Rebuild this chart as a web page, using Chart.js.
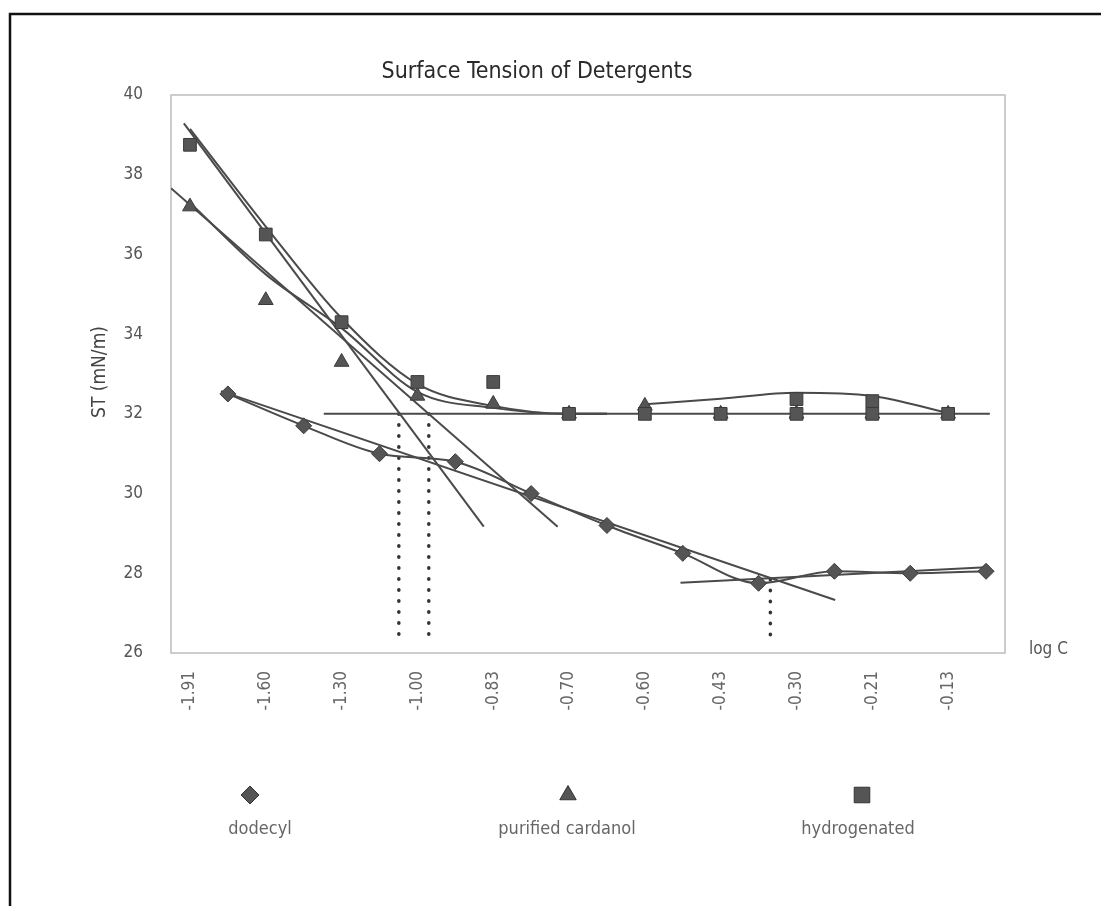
<!DOCTYPE html>
<html>
<head>
<meta charset="utf-8">
<script src="https://cdn.jsdelivr.net/npm/chart.js@4/dist/chart.umd.min.js"></script>
<style>
  html, body { margin: 0; padding: 0; background: #fff; }
  #wrap { width: 1101px; height: 906px; }
</style>
</head>
<body>
<div id="wrap"><canvas id="chart" width="1101" height="906"></canvas></div>
<script>
// x axis: 22 slots, tick label i sits on slot 2*i, dodecyl readings on the odd slots
const xLabels = ['-1.91', '-1.60', '-1.30', '-1.00', '-0.83', '-0.70', '-0.60', '-0.43', '-0.30', '-0.21', '-0.13'];
const yTicks = [26, 28, 30, 32, 34, 36, 38, 40];

const dodecylSlots = [1, 3, 5, 7, 9, 11, 13, 15, 17, 19, 21];
const dodecyl = [32.5, 31.7, 31.0, 30.8, 30.0, 29.2, 28.5, 27.75, 28.05, 28.0, 28.05];

const evenSlots = [0, 2, 4, 6, 8, 10, 12, 14, 16, 18, 20];
const cardanol = [37.2, 34.85, 33.3, 32.45, 32.25, 32.0, 32.2, 32.0, 32.0, 32.0, 32.0];
const hydrogenated = [38.75, 36.5, 34.3, 32.8, 32.8, 32.0, 32.0, 32.0, 32.0, 32.0, 32.0];
// second reading of hydrogenated at -0.30 and -0.21
const hydroRepeatSlots = [16, 18];
const hydroRepeat = [32.37, 32.32];

// smooth (polynomial) fits
const fitSlots = [0, 2, 4, 6, 8, 10, 11];
const hydroFit = [39.15, 36.7, 34.4, 32.75, 32.2, 32.0, 32.0];
const cardFit = [37.3, 35.5, 34.15, 32.55, 32.15, 32.0, 32.0];
const upperFitSlots = [12, 14, 16, 18, 20];
const upperFit = [32.24, 32.38, 32.53, 32.45, 32.02];

// straight fits: [start, end]
const hydroLineX = [-0.16, 7.75], hydroLineY = [39.29, 29.17];
const cardLineX = [-0.5, 9.7], cardLineY = [37.66, 29.17];
const dodLineX = [0.82, 17.02], dodLineY = [32.57, 27.33];
const dodFlatX = [12.94, 21.0], dodFlatY = [27.76, 28.15];
const plateauX = [3.53, 21.1], plateauY = [32, 32];

// dotted markers at the break points (CMC)
const cmcSlots = [5.51, 6.30, 15.31];
const cmcTop = [32, 32, 27.85];
const cmcBottom = 26.25;

const INK = '#4a4a4a';
const FONT = "'Liberation Sans Narrow', 'Arial Narrow', 'DejaVu Sans Condensed', Arial, sans-serif";

const pts = (xs, ys) => xs.map((x, i) => ({ x: x, y: ys[i] }));

function marker(label, xs, ys, style, radius) {
    return {
        label: label,
        data: pts(xs, ys),
        showLine: false,
        pointStyle: style,
        pointRadius: radius,
        pointBackgroundColor: '#555',
        pointBorderColor: '#3a3a3a',
        pointBorderWidth: 1
    };
}

function curve(xs, ys, tension) {
    return {
        data: pts(xs, ys),
        borderColor: INK,
        borderWidth: 2,
        pointRadius: 0,
        tension: tension || 0,
        cubicInterpolationMode: tension ? 'monotone' : 'default',
        fill: false
    };
}

const datasets = [
    marker('hydrogenated', hydroRepeatSlots, hydroRepeat, 'rect', 9),
    marker('hydrogenated', evenSlots, hydrogenated, 'rect', 9),
    marker('purified cardanol', evenSlots, cardanol, 'triangle', 8.5),
    marker('dodecyl', dodecylSlots, dodecyl, 'rectRot', 8),
    curve(dodecylSlots, dodecyl, 0.4),
    curve(fitSlots, hydroFit, 0.4),
    curve(fitSlots, cardFit, 0.4),
    curve(upperFitSlots, upperFit, 0.4),
    curve(hydroLineX, hydroLineY),
    curve(cardLineX, cardLineY),
    curve(dodLineX, dodLineY),
    curve(dodFlatX, dodFlatY),
    curve(plateauX, plateauY)
];
cmcSlots.forEach((x, i) => {
    datasets.push({
        data: pts([x, x], [cmcTop[i], cmcBottom]),
        borderColor: '#333',
        borderWidth: 3.5,
        borderDash: [0.5, 10.5],
        borderCapStyle: 'round',
        pointRadius: 0
    });
});

const legendItems = [
    { text: 'dodecyl', style: 'rectRot', radius: 9, x: 250, tx: 260 },
    { text: 'purified cardanol', style: 'triangle', radius: 9.5, x: 568, tx: 567 },
    { text: 'hydrogenated', style: 'rect', radius: 11, x: 862, tx: 858 }
];

const decorations = {
    id: 'decorations',
    beforeDraw(chart) {
        const ctx = chart.ctx;
        ctx.save();
        ctx.fillStyle = '#fff';
        ctx.fillRect(0, 0, chart.width, chart.height);
        // outer frame (only left and top edges are visible)
        ctx.strokeStyle = '#111';
        ctx.lineWidth = 2.5;
        ctx.beginPath();
        ctx.moveTo(10, 906);
        ctx.lineTo(10, 14);
        ctx.lineTo(1101, 14);
        ctx.stroke();
        // plot area border
        const a = chart.chartArea;
        ctx.strokeStyle = '#bdbdbd';
        ctx.lineWidth = 1.5;
        ctx.strokeRect(a.left, a.top, a.right - a.left, a.bottom - a.top);
        ctx.restore();
    },
    afterDraw(chart) {
        const ctx = chart.ctx;
        ctx.save();
        ctx.fillStyle = '#2a2a2a';
        ctx.textAlign = 'center';
        ctx.textBaseline = 'middle';
        ctx.font = '23px ' + FONT;
        ctx.fillText('Surface Tension of Detergents', 537, 72);

        ctx.fillStyle = '#444';
        ctx.font = '19px ' + FONT;
        ctx.save();
        ctx.translate(100, 372);
        ctx.rotate(-Math.PI / 2);
        ctx.fillText('ST (mN/m)', 0, 0);
        ctx.restore();

        ctx.fillStyle = '#555';
        ctx.font = '17px ' + FONT;
        ctx.textAlign = 'left';
        ctx.fillText('log C', 1029, 650);

        ctx.textAlign = 'center';
        ctx.font = '18px ' + FONT;
        legendItems.forEach(item => {
            ctx.fillStyle = '#555';
            ctx.strokeStyle = '#333';
            ctx.lineWidth = 1;
            Chart.helpers.drawPoint(ctx, { pointStyle: item.style, radius: item.radius, borderWidth: 1 }, item.x, 795);
            ctx.fillStyle = '#666';
            ctx.fillText(item.text, item.tx, 829);
        });
        ctx.restore();
    }
};

new Chart(document.getElementById('chart'), {
    type: 'line',
    data: { datasets: datasets },
    options: {
        responsive: false,
        devicePixelRatio: 1,
        animation: false,
        layout: { padding: { left: 0, right: 96, top: 95, bottom: 0 } },
        plugins: {
            legend: { display: false },
            title: { display: false },
            tooltip: { enabled: false }
        },
        scales: {
            x: {
                type: 'linear',
                min: -0.5,
                max: 21.5,
                grid: { display: false },
                border: { display: false },
                afterBuildTicks: scale => {
                    scale.ticks = xLabels.map((_, i) => ({ value: evenSlots[i] }));
                },
                afterFit: scale => { scale.height = 906 - 653; },
                ticks: {
                    autoSkip: false,
                    minRotation: 90,
                    maxRotation: 90,
                    padding: 10,
                    color: '#666',
                    font: { family: FONT, size: 17 },
                    callback: (v) => xLabels[evenSlots.indexOf(v)]
                }
            },
            y: {
                min: 26,
                max: 40,
                grid: { display: false },
                border: { display: false },
                afterBuildTicks: scale => {
                    scale.ticks = yTicks.map(v => ({ value: v }));
                },
                afterFit: scale => { scale.width = 171; },
                ticks: {
                    padding: 20,
                    color: '#555',
                    font: { family: FONT, size: 17 }
                }
            }
        }
    },
    plugins: [decorations]
});
</script>
</body>
</html>
